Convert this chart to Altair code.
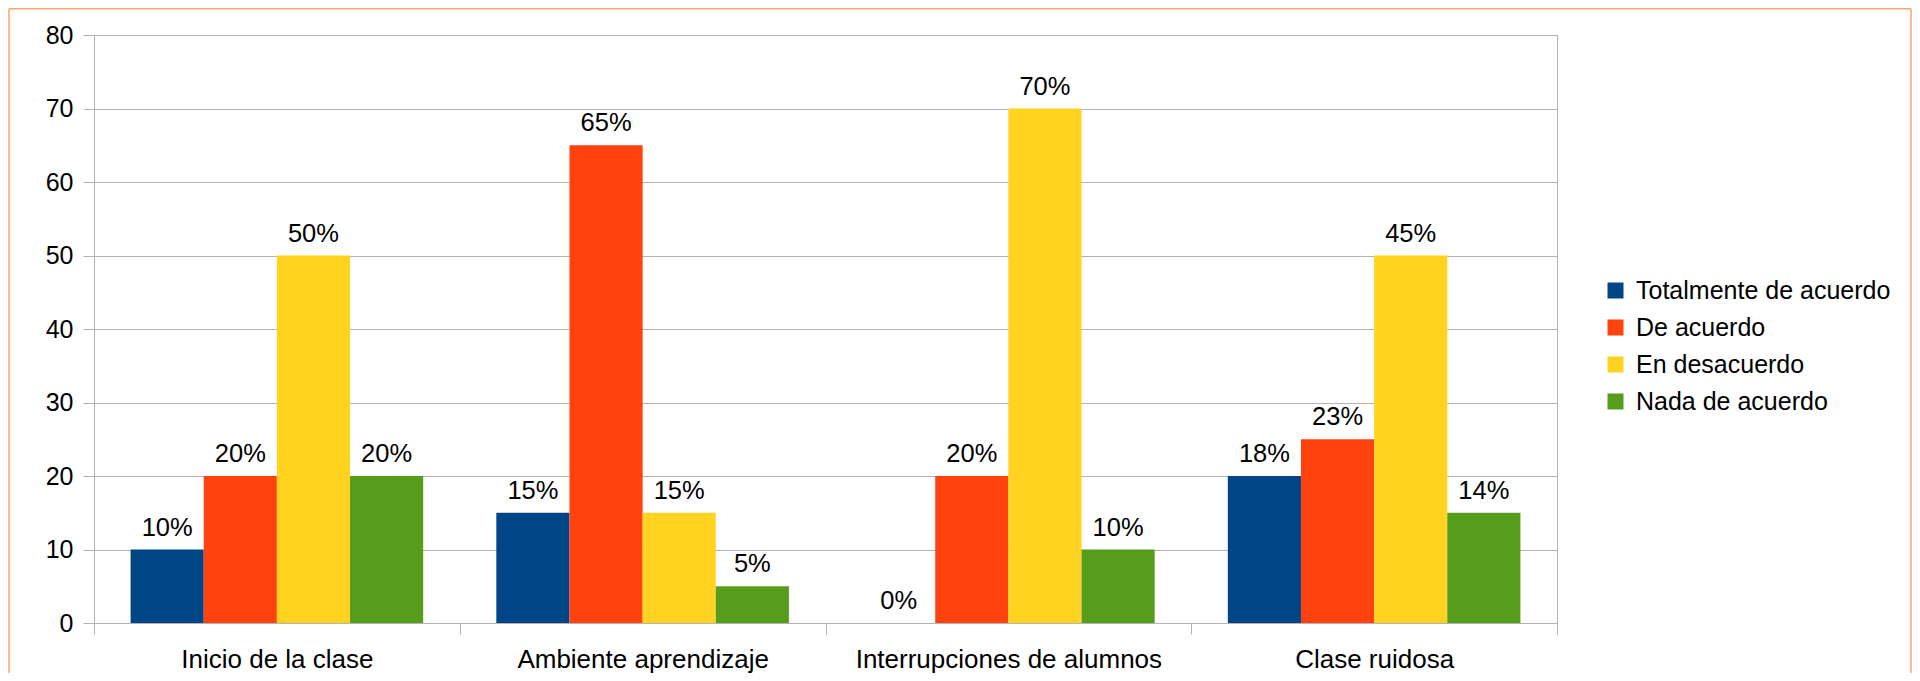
import altair as alt
import pandas as pd

categories = ["Inicio de la clase", "Ambiente aprendizaje", "Interrupciones de alumnos", "Clase ruidosa"]
series = ["Totalmente de acuerdo", "De acuerdo", "En desacuerdo", "Nada de acuerdo"]
colors = ["#004586", "#ff420e", "#ffd320", "#579d1c"]

values = {
    "Totalmente de acuerdo": [10, 15, 0, 20],
    "De acuerdo": [20, 65, 20, 25],
    "En desacuerdo": [50, 15, 70, 50],
    "Nada de acuerdo": [20, 5, 10, 15],
}
labels = {
    "Totalmente de acuerdo": ["10%", "15%", "0%", "18%"],
    "De acuerdo": ["20%", "65%", "20%", "23%"],
    "En desacuerdo": ["50%", "15%", "70%", "45%"],
    "Nada de acuerdo": ["20%", "5%", "10%", "14%"],
}

rows = []
for s in series:
    for i, c in enumerate(categories):
        rows.append({"categoria": c, "serie": s, "valor": values[s][i], "etiqueta": labels[s][i]})
df = pd.DataFrame(rows)

FONT = "Liberation Sans"
GRID = "#b3b3b3"

x_enc = alt.X("categoria:N", sort=categories, title=None,
              scale=alt.Scale(paddingInner=0, paddingOuter=0),
              axis=alt.Axis(tickBand="extent", grid=False, domainColor=GRID, tickColor=GRID,
                            tickSize=11, labelFontSize=26, labelFont=FONT, labelColor="#000000",
                            labelPadding=12, labelAngle=0, labelLimit=400))
xo_enc = alt.XOffset("serie:N", sort=series, scale=alt.Scale(paddingOuter=0.5, paddingInner=0))

base = alt.Chart(df)

bars = base.mark_bar().encode(
    x=x_enc,
    xOffset=xo_enc,
    y=alt.Y("valor:Q", title=None,
            scale=alt.Scale(domain=[0, 80], nice=False),
            axis=alt.Axis(values=[0, 10, 20, 30, 40, 50, 60, 70, 80], grid=True, gridColor=GRID,
                          domainColor=GRID, tickColor=GRID, tickSize=11, labelFontSize=25,
                          labelFont=FONT, labelColor="#000000", labelPadding=10)),
    color=alt.Color("serie:N", sort=series, scale=alt.Scale(domain=series, range=colors),
                    legend=alt.Legend(title=None, orient="none", legendX=1509, legendY=243,
                                      symbolType="square", symbolSize=256, symbolStrokeWidth=0,
                                      labelFontSize=25, labelFont=FONT, labelColor="#000000",
                                      labelOffset=8, rowPadding=11, padding=0, labelLimit=500)),
)

text = base.mark_text(fontSize=25.5, font=FONT, color="#000000", baseline="alphabetic", dy=-14).encode(
    x=alt.X("categoria:N", sort=categories),
    xOffset=xo_enc,
    y=alt.Y("valor:Q"),
    text="etiqueta:N",
)

frame_df = pd.DataFrame({"k": [0]})
border_color = "#fca36b"
left_b = alt.Chart(frame_df).mark_rule(color=border_color, strokeWidth=1.5).encode(
    x=alt.value(-85), y=alt.value(-26.2), y2=alt.value(700))
top_b = alt.Chart(frame_df).mark_rule(color=border_color, strokeWidth=1.5).encode(
    x=alt.value(-85), x2=alt.value(1817), y=alt.value(-26.2))
right_b = alt.Chart(frame_df).mark_rule(color=border_color, strokeWidth=1.5).encode(
    x=alt.value(1817), y=alt.value(-26.2), y2=alt.value(700))

chart = alt.layer(bars, text, left_b, top_b, right_b).properties(
    width=1463, height=588,
    autosize=alt.AutoSizeParams(type="none"),
    padding={"left": 86, "top": 27, "right": 355, "bottom": 50},
    background="#ffffff",
).configure_view(stroke=GRID, strokeWidth=1)

chart.save("out.html", embed_options={"renderer": "svg", "actions": False})
